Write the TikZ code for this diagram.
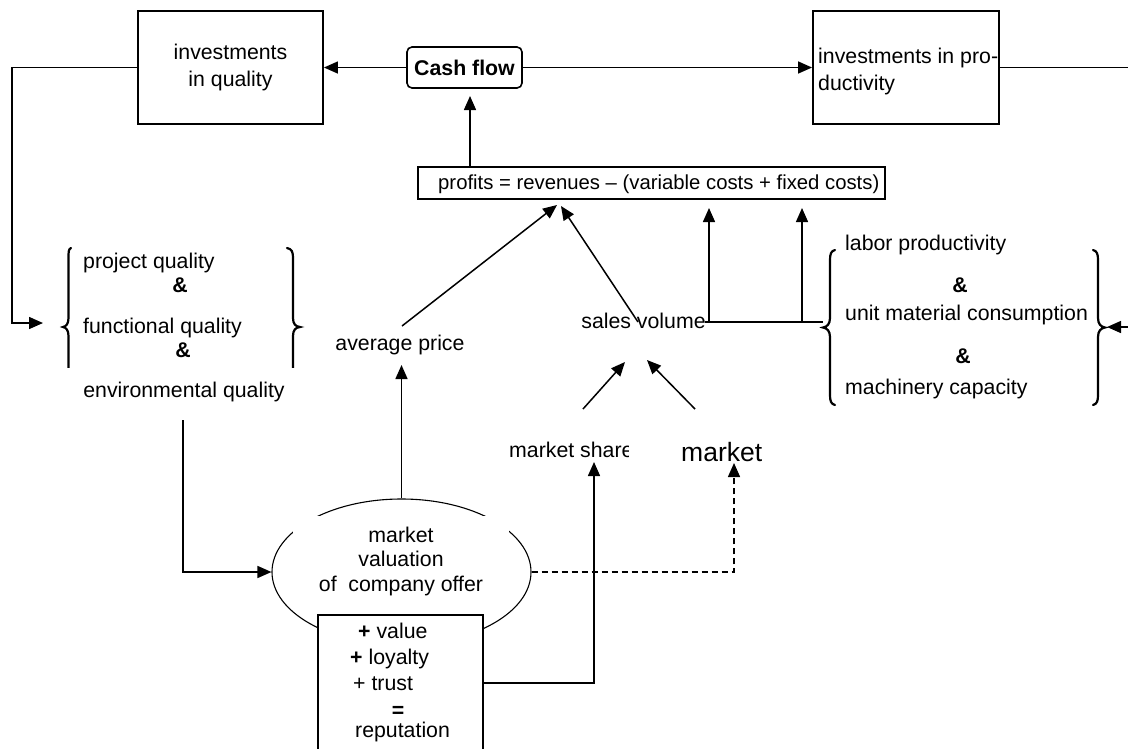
\documentclass[tikz,border=0pt]{standalone}
\usepackage{fontspec}
\setmainfont{Liberation Sans}
\usetikzlibrary{arrows.meta,shapes.geometric}
\begin{document}
\begin{tikzpicture}[x=1pt,y=-1pt,
  txt/.style={font=\fontsize{21.3}{26}\selectfont, inner sep=0pt, text height=15pt, text depth=4.5pt},
  mtxt/.style={font=\fontsize{21.3}{27}\selectfont, inner sep=0pt},
  conn/.style={line width=1.5pt, -{Triangle[length=14pt,width=12pt]}},
  plain/.style={line width=1.5pt},
  boxed/.style={draw, line width=1.9pt, fill=white, inner sep=0pt},
  bracestyle/.style={line width=2.2pt, line cap=round},
  amp/.style={txt, font=\fontsize{21.3}{26}\selectfont\bfseries}]
\useasboundingbox (0,0) rectangle (1128,748);
\clip (0,0) rectangle (1128,748);

% top row
\node[boxed, mtxt, minimum width=185pt, minimum height=113pt, align=center] (iq) at (230.5,67.5) {investments\\in quality};
\node[draw, line width=1.6pt, rounded corners=5pt, fill=white, inner sep=0pt, minimum width=115pt, minimum height=41pt, font=\fontsize{21.3}{26}\selectfont\bfseries] (cf) at (464.5,67.5) {Cash flow};
\node[boxed, minimum width=186pt, minimum height=113pt] (ip) at (906,67.5) {};
\node[mtxt, align=left, anchor=west] (iptext) at (818,71) {investments in pro-\\ductivity};

\draw[conn] (cf.west) -- (iq.east);
\draw[conn] (cf.east) -- (ip.west);

% profits
\node[draw, line width=1.7pt, fill=white, minimum width=467pt, minimum height=32pt] (prof) at (651.5,183) {};
\node[txt, font=\fontsize{20.3}{24}\selectfont, anchor=west] (proftext) at (438,184) {profits = revenues – (variable costs + fixed costs)};
\coordinate (cfin) at (470,96);
\draw[conn] (prof.north -| cfin) -- (cfin);

% feedback loops
\coordinate (lcorner) at (12,323);
\coordinate (lqa) at (43,323);
\draw[conn] (iq.west) -| (lcorner) -- (lqa);
\coordinate (rcorner) at (1140,327);
\coordinate (rqa) at (1107,327);
\draw[conn] (ip.east) -| (rcorner) -- (rqa);

% left group braces
\draw[bracestyle] (71,248) .. controls (68.5,249) and (68.5,252) .. (68.5,258) -- (68.5,318) .. controls (68.5,324) and (66,326.5) .. (63,327) .. controls (66,327.5) and (68.5,330) .. (68.5,336) -- (68.5,396) .. controls (68.5,402) and (68.5,405) .. (71,406);
\draw[bracestyle] (287,248) .. controls (292,249) and (293,252) .. (293,258) -- (293,318) .. controls (293,324) and (295.5,326.5) .. (300,327) .. controls (295.5,327.5) and (293,330) .. (293,336) -- (293,396) .. controls (293,402) and (292,405) .. (287,406);

\node[txt, anchor=west] (pq) at (83,263) {project quality};
\node[amp] (amp1) at (180,287) {\&};
\node[txt, anchor=west] (fq) at (83,328) {functional quality};
\node[amp] (amp2) at (183,352) {\&};
\node[txt, fill=white, minimum width=250pt, minimum height=48pt] (eq) at (184,392) {environmental quality};

% right group braces
\draw[bracestyle] (835,250) .. controls (831,251) and (830,254) .. (830,260) -- (830,318) .. controls (830,324) and (827,327) .. (823,327.5) .. controls (827,328) and (830,331) .. (830,337) -- (830,395) .. controls (830,401) and (831,404) .. (835,405);
\draw[bracestyle] (1093,250) .. controls (1097,251) and (1098,254) .. (1098,260) -- (1098,318) .. controls (1098,324) and (1101,327) .. (1105,327.5) .. controls (1101,328) and (1098,331) .. (1098,337) -- (1098,395) .. controls (1098,401) and (1097,404) .. (1093,405);

\node[txt, anchor=west] (lp) at (845,245) {labor productivity};
\node[amp] (amp3) at (960,287) {\&};
\node[txt, anchor=west] (umc) at (845,315) {unit material consumption};
\node[amp] (amp4) at (963,358) {\&};
\node[txt, anchor=west] (mc) at (845,389) {machinery capacity};

% middle
\node[txt] (ap) at (400,345) {average price};
\node[txt] (sv) at (643.5,323) {sales volume};

\coordinate (apt) at (402,326);
\coordinate (pin1) at (557,205);
\draw[conn] (apt) -- (pin1);
\coordinate (svt) at (638,322);
\coordinate (pin2) at (561,206);
\draw[conn] (svt) -- (pin2);

\coordinate (svr) at (705,322);
\coordinate (brl) at (823,322);
\draw[plain] (svr) -- (brl);
\coordinate (j1) at (709,322);
\coordinate (t1) at (709,208);
\coordinate (j2) at (802,322);
\coordinate (t2) at (802,208);
\draw[conn] (j1) -- (t1);
\draw[conn] (j2) -- (t2);

% market share / market
\begin{scope}
\clip (500,430) rectangle (628,475);
\node[txt, anchor=west] (ms) at (509,452) {market share};
\end{scope}
\node[txt, font=\fontsize{26.5}{30}\selectfont, text height=19pt, text depth=1pt, anchor=west] (mk) at (681,452) {market};

\coordinate (m1s) at (583,409);
\coordinate (m1t) at (625,362);
\coordinate (m2s) at (695,409);
\coordinate (m2t) at (647,360);
\draw[conn] (m1s) -- (m1t);
\draw[conn] (m2s) -- (m2t);

% ellipse
\node[draw, ellipse, line width=1.1pt, inner sep=0pt, minimum width=259pt, minimum height=146pt] (ell) at (401.5,572) {};
\node[fill=white, inner sep=0pt, minimum width=216pt, minimum height=90pt, align=center, font=\fontsize{21.3}{24.5}\selectfont] (et) at (401,561) {market\\valuation\\of\ \ company offer};

\coordinate (eqb) at (183,420);
\draw[conn] (eqb) |- (ell.west);
\coordinate (apb) at (401.5,365);
\draw[conn] (ell.north) -- (apb);
\coordinate (mkb) at (734,463);
\draw[conn, dash pattern=on 6pt off 4pt] (ell.east) -| (mkb);

% reputation box
\node[boxed, line width=1.7pt, minimum width=165pt, minimum height=170pt] (rep) at (400.5,700) {};
\node[txt, anchor=west] (rv) at (358,633) {\textbf{+} value};
\node[txt, anchor=west] (rl) at (350,659) {\textbf{+} loyalty};
\node[txt, anchor=west] (rt) at (353,685) {+ trust};
\node[amp] (req) at (398,712) {=};
\node[txt, anchor=west] (rr) at (355,732) {reputation};

\coordinate (repr) at (483,683);
\coordinate (msb) at (594,462);
\draw[conn] (repr) -| (msb);
\end{tikzpicture}
\end{document}
